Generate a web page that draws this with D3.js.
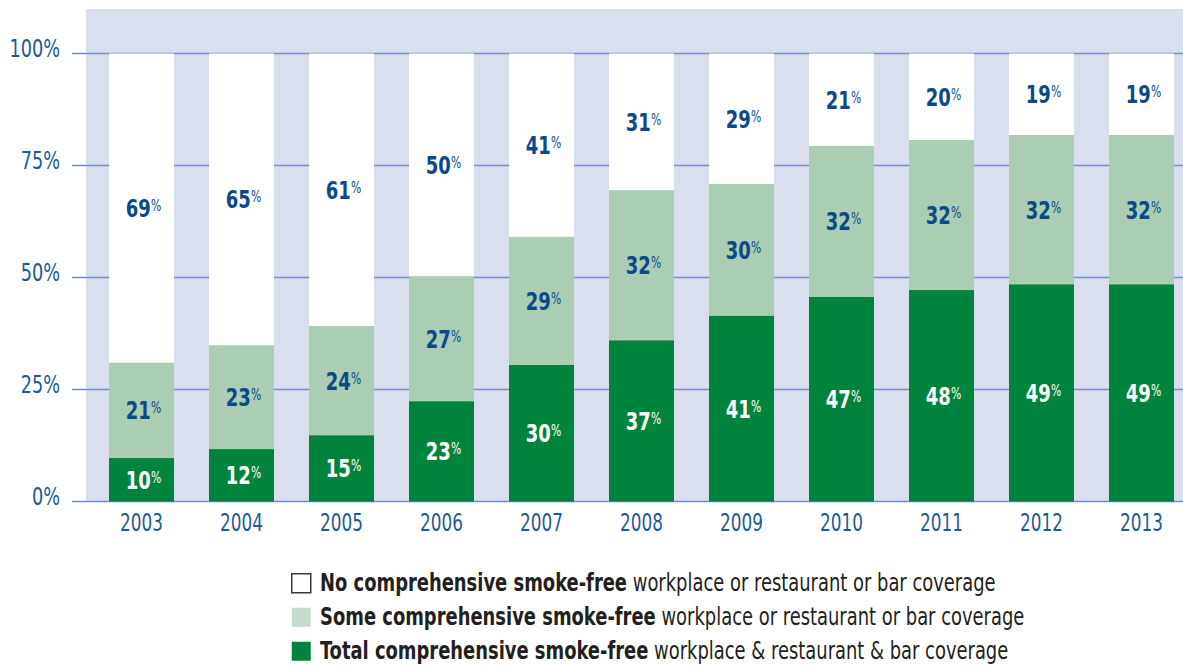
<!DOCTYPE html>
<html lang="en">
<head>
<meta charset="utf-8">
<title>Smoke-free coverage 2003-2013</title>
<script src="https://cdn.jsdelivr.net/npm/d3@7/dist/d3.min.js"></script>
<style>
    body { margin : 0; background : #ffffff; }
    svg text { font-family : "Liberation Sans Narrow", "DejaVu Sans Condensed", "Roboto Condensed", sans-serif; font-stretch : condensed; }
</style>
</head>
<body>
<div id="chart"></div>
<script>

// years on the x axis
var years = [ "2003" , "2004" , "2005" , "2006" , "2007" , "2008" , "2009" , "2010" , "2011" , "2012" , "2013" ];

// bar heights (percent of countries)
var totalVals = [ 9.7 , 11.7 , 14.8 , 22.4 , 30.5 , 36.0 , 41.5 , 45.7 , 47.2 , 48.5 , 48.5 ];
var someVals  = [ 21.3 , 23.2 , 24.4 , 27.9 , 28.6 , 33.5 , 29.4 , 33.7 , 33.5 , 33.3 , 33.3 ];

// printed labels
var totalLabels = [ 10 , 12 , 15 , 23 , 30 , 37 , 41 , 47 , 48 , 49 , 49 ];
var someLabels  = [ 21 , 23 , 24 , 27 , 29 , 32 , 30 , 32 , 32 , 32 , 32 ];
var noneLabels  = [ 69 , 65 , 61 , 50 , 41 , 31 , 29 , 21 , 20 , 19 , 19 ];

var yTicks = [ 0 , 25 , 50 , 75 , 100 ];

var legendItems = [
    { bold : "No comprehensive smoke-free" , rest : " workplace or restaurant or bar coverage" , fill : "#ffffff" , stroke : "#3a3a3a" },
    { bold : "Some comprehensive smoke-free" , rest : " workplace or restaurant or bar coverage" , fill : "#c3dccb" , stroke : "none" },
    { bold : "Total comprehensive smoke-free" , rest : " workplace & restaurant & bar coverage" , fill : "#00843d" , stroke : "none" }
];

var W = 1183 , H = 666;
var darkGreen = "#00843d" , lightGreen = "#abcdb3" , labelBlue = "#0b4a88" , axisBlue = "#1c5b98";
var squeeze = 0.8;   // the fonts we have are wider than the original condensed face

function at( px , py , sx ) { return "translate(" + px + "," + py + ") scale(" + sx + ",1)"; }

var svg = d3.select( "#chart" ).append( "svg" )
    .attr( "width" , W )
    .attr( "height" , H );

var x = d3.scaleBand()
    .domain( years )
    .range( [ 91.5 , 1191.5 ] )
    .paddingInner( 0.35 )
    .paddingOuter( 0.175 );

var y = d3.scaleLinear()
    .domain( [ 0 , 100 ] )
    .range( [ 501.5 , 53.5 ] );

// plot background
svg.append( "rect" )
    .attr( "x" , 86 )
    .attr( "y" , 9 )
    .attr( "width" , W - 86 )
    .attr( "height" , y( 0 ) - 9 )
    .style( "fill" , "#d9dfec" );

// gridlines + y labels
var yAxis = svg.append( "g" );
yAxis.selectAll( "line" )
    .data( yTicks )
    .enter().append( "line" )
        .attr( "x1" , 72 )
        .attr( "x2" , W )
        .attr( "y1" , function( d ) { return y( d ); } )
        .attr( "y2" , function( d ) { return y( d ); } )
        .style( "stroke" , "#6f8fc2" )
        .style( "stroke-width" , 1.6 );

yAxis.selectAll( "text" )
    .data( yTicks )
    .enter().append( "text" )
        .attr( "transform" , function( d ) { return at( 60 , y( d ) + 3 , 0.82 ); } )
        .attr( "text-anchor" , "end" )
        .style( "font-size" , "24px" )
        .style( "fill" , axisBlue )
        .text( function( d ) { return d + "%"; } );

// segments
var rows = years.map( function( yr , i ) {
    var t = totalVals[i] , s = someVals[i];
    return [
        { year : yr , y0 : 0 , y1 : t , fill : darkGreen , label : totalLabels[i] , color : "#ffffff" },
        { year : yr , y0 : t , y1 : t + s , fill : lightGreen , label : someLabels[i] , color : labelBlue },
        { year : yr , y0 : t + s , y1 : 100 , fill : "#ffffff" , label : noneLabels[i] , color : labelBlue }
    ];
} );
var segs = d3.merge( rows );

svg.append( "g" ).selectAll( "rect" )
    .data( segs )
    .enter().append( "rect" )
        .attr( "x" , function( d ) { return x( d.year ); } )
        .attr( "y" , function( d ) { return y( d.y1 ); } )
        .attr( "width" , x.bandwidth() )
        .attr( "height" , function( d ) { return y( d.y0 ) - y( d.y1 ); } )
        .style( "fill" , function( d ) { return d.fill; } );

var lab = svg.append( "g" ).selectAll( "text" )
    .data( segs )
    .enter().append( "text" )
        .attr( "transform" , function( d ) {
            return at( x( d.year ) + x.bandwidth() / 2 + 2 , ( y( d.y0 ) + y( d.y1 ) ) / 2 + 9 , squeeze );
        } )
        .attr( "text-anchor" , "middle" )
        .style( "font-weight" , "bold" )
        .style( "fill" , function( d ) { return d.color; } );
lab.append( "tspan" )
    .style( "font-size" , "25px" )
    .text( function( d ) { return d.label; } );
lab.append( "tspan" )
    .attr( "dy" , -6 )
    .style( "font-size" , "15px" )
    .style( "font-weight" , "normal" )
    .text( "%" );

// x labels
svg.append( "g" ).selectAll( "text" )
    .data( years )
    .enter().append( "text" )
        .attr( "transform" , function( d ) { return at( x( d ) + x.bandwidth() / 2 , 531 , 0.78 ); } )
        .attr( "text-anchor" , "middle" )
        .style( "font-size" , "24px" )
        .style( "fill" , axisBlue )
        .text( function( d ) { return d; } );

// legend
var leg = svg.append( "g" ).selectAll( "g" )
    .data( legendItems )
    .enter().append( "g" )
        .attr( "transform" , function( d , i ) { return "translate(291," + ( 573 + i * 34 ) + ")"; } );
leg.append( "rect" )
    .attr( "x" , 0.75 )
    .attr( "y" , 0.75 )
    .attr( "width" , 19 )
    .attr( "height" , 19 )
    .style( "fill" , function( d ) { return d.fill; } )
    .style( "stroke" , function( d ) { return d.stroke; } )
    .style( "stroke-width" , 1.5 );
var lt = leg.append( "text" )
    .attr( "transform" , at( 29 , 18 , 0.83 ) )
    .style( "font-size" , "24px" )
    .style( "fill" , "#231f20" );
lt.append( "tspan" )
    .style( "font-weight" , "bold" )
    .text( function( d ) { return d.bold; } );
lt.append( "tspan" )
    .text( function( d ) { return d.rest; } );

</script>
</body>
</html>
